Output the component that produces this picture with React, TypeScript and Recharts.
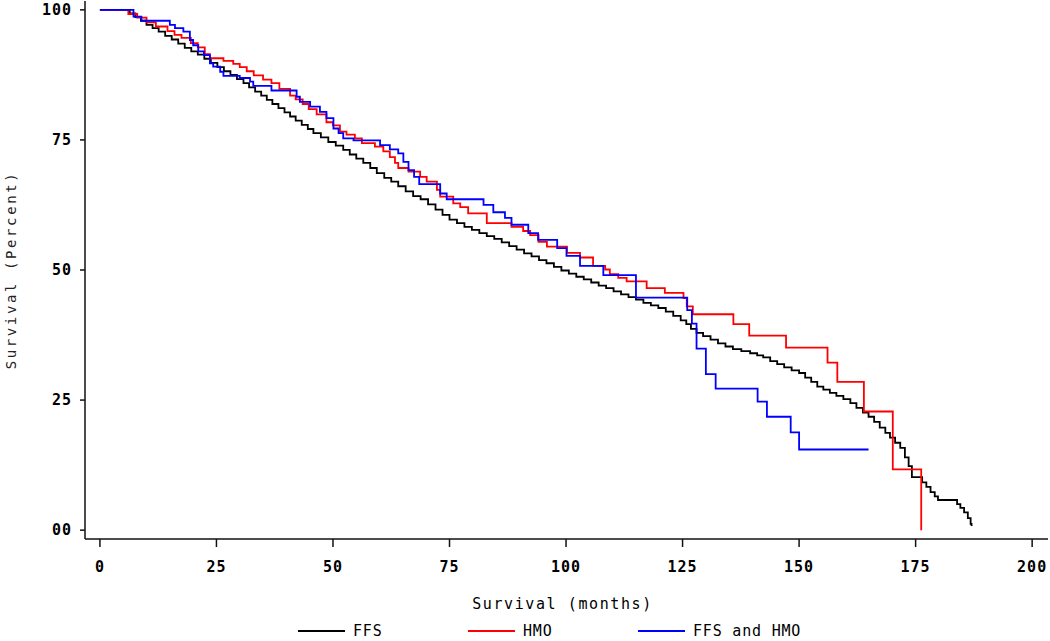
import React from "react";
import { LineChart, Line, XAxis, YAxis, Label } from "recharts";

// Kaplan-Meier estimates (months, percent surviving)
const ffsMonths = [
  0, 6.4, 7.6, 8.8, 10.0, 11.3, 12.6, 14.0, 15.4, 16.8, 18.2, 19.6, 21.0, 22.4, 23.8,
  25.2, 26.6, 28.0, 29.4, 30.8, 32.0, 33.3, 34.6, 35.8, 37.0, 38.3, 39.6, 40.8, 42.0,
  43.3, 44.6, 45.8, 47.4, 49.0, 50.6, 52.2, 53.6, 55.0, 56.5, 58.0, 59.4, 61.0, 62.5,
  64.0, 65.6, 67.2, 68.8, 70.4, 72.0, 73.5, 75.0, 76.6, 78.2, 79.8, 81.4, 83.0, 84.6,
  86.2, 87.8, 89.4, 91.0, 92.6, 94.2, 95.8, 97.4, 99.0, 100.6, 102.2, 103.8, 105.4,
  107.0, 108.6, 110.2, 111.8, 113.4, 115.0, 116.6, 118.2, 119.8, 121.4, 123.0, 124.6,
  125.8, 126.8, 128.0, 129.4, 131.0, 132.6, 134.2, 135.8, 137.6, 139.5, 141.0, 142.3,
  143.8, 145.3, 146.8, 148.4, 150.0, 151.3, 152.6, 153.9, 155.2, 156.6, 158.0, 159.5,
  161.0, 162.3, 163.7, 164.9, 166.1, 167.3, 168.5, 169.5, 170.6, 171.7, 172.7, 173.5,
  174.2, 176.4, 177.3, 178.2, 179.1, 179.8, 183.9, 184.6, 185.4, 186.2, 186.8, 187.0,
];
const ffsSurvival = [
  100, 99.3, 98.6, 97.9, 97.1, 96.5, 95.8, 95.0, 94.3, 93.5, 92.7, 92.0, 91.4, 90.6, 89.8,
  89.0, 88.2, 87.5, 86.7, 85.9, 85.1, 84.3, 83.5, 82.7, 81.9, 81.1, 80.3, 79.5, 78.7,
  77.9, 77.1, 76.3, 75.5, 74.6, 73.9, 73.1, 72.2, 71.4, 70.6, 69.6, 68.6, 67.7, 67.0,
  66.1, 65.1, 64.2, 63.6, 62.6, 61.6, 60.6, 59.7, 59.0, 58.3, 57.7, 57.1, 56.5, 56.0,
  55.3, 54.6, 53.9, 53.2, 52.6, 51.9, 51.3, 50.6, 49.9, 49.3, 48.7, 48.2, 47.6,
  47.0, 46.5, 45.9, 45.3, 44.8, 44.3, 43.7, 43.2, 42.7, 42.0, 41.2, 40.3,
  39.6, 38.7, 37.9, 37.3, 36.6, 35.9, 35.3, 34.8, 34.4, 34.0, 33.6, 33.2,
  32.5, 31.9, 31.3, 30.7, 30.2, 29.3, 28.5, 27.6, 27.0, 26.4, 25.8, 25.2,
  24.4, 23.5, 22.6, 21.8, 20.8, 19.7, 18.7, 17.8, 16.8, 15.8, 14.0, 12.3,
  10.2, 9.2, 8.3, 7.3, 6.5, 5.8, 5.0, 4.3, 3.4, 2.3, 1.2, 0.8,
];

const hmoMonths = [
  0, 6.1, 8.0, 10.0, 12.0, 14.5, 16.0, 17.5, 19.5, 21.0, 22.5, 23.6, 26.5, 28.6, 30.0,
  31.5, 33.0, 35.0, 36.8, 38.5, 40.8, 42.0, 43.5, 44.8, 46.5, 48.6, 50.0, 51.5, 52.9,
  54.7, 56.2, 59.0, 60.8, 62.2, 63.3, 64.0, 66.2, 68.7, 70.1, 72.3, 73.0, 75.8, 77.3,
  79.0, 83.0, 88.3, 90.8, 92.3, 94.1, 95.9, 100.2, 103.0, 105.8, 108.4, 109.4, 111.2,
  113.0, 117.3, 121.2, 125.2, 125.9, 127.2, 135.9, 139.3, 147.2, 156.1, 158.2, 163.9,
  170.1, 176.2,
];
const hmoSurvival = [
  100, 99.2, 98.5, 97.6, 96.8, 95.9, 95.2, 94.6, 93.6, 92.8, 91.5, 90.7, 90.2, 89.6, 89.0,
  88.2, 87.4, 86.6, 85.9, 84.8, 83.5, 82.8, 81.9, 80.9, 79.9, 78.4, 77.8, 76.6, 76.0,
  75.3, 74.4, 73.7, 72.8, 71.7, 70.6, 69.6, 68.9, 67.9, 67.0, 65.4, 64.1, 62.8, 62.1,
  60.9, 59.0, 58.3, 57.5, 56.7, 55.4, 54.5, 53.3, 52.4, 50.8, 50.1, 49.2, 48.5,
  47.8, 46.5, 45.6, 44.6, 43.0, 41.5, 39.6, 37.4, 35.1, 32.2, 28.5, 22.8,
  11.7, 0,
];

const bothMonths = [
  0, 7.2, 8.9, 15.0, 16.1, 17.9, 19.3, 20.0, 21.1, 22.3, 23.6, 24.3, 25.8, 26.5, 30.0,
  32.2, 32.9, 36.8, 42.2, 42.9, 45.1, 47.2, 48.6, 50.1, 51.2, 52.2, 54.4, 60.1, 62.2,
  64.0, 65.1, 66.2, 67.4, 68.5, 73.0, 74.4, 82.3, 84.4, 86.9, 88.3, 91.9, 94.0, 98.1,
  100.1, 103.0, 108.0, 115.0, 126.0, 127.0, 128.0, 130.0, 132.1, 141.1, 143.1, 148.2,
  150.0, 164.9,
];
const bothSurvival = [
  100, 98.7, 97.9, 97.1, 96.5, 95.8, 94.2, 93.2, 92.0, 91.3, 89.7, 89.1, 88.1, 87.3, 86.9,
  86.2, 85.4, 84.5, 83.3, 82.3, 81.4, 80.4, 79.2, 77.2, 76.3, 75.3, 74.9, 74.0, 73.2,
  72.4, 70.8, 69.2, 67.9, 66.5, 64.7, 63.6, 62.5, 61.1, 60.0, 58.7, 57.1, 55.8, 54.2,
  52.7, 50.8, 49.0, 44.7, 42.3, 39.7, 34.9, 30.0, 27.2, 24.7, 21.8, 18.8,
  15.5, 15.5,
];

const xTicks = [0, 25, 50, 75, 100, 125, 150, 175, 200];
const yTicks = [0, 25, 50, 75, 100];
const yTickLabels = ["00", "25", "50", "75", "100"];

const toPoints = (months: number[], survival: number[]) =>
  months.map((m, i) => ({ month: m, survival: survival[i] }));

const ffs = toPoints(ffsMonths, ffsSurvival);
const hmo = toPoints(hmoMonths, hmoSurvival);
const both = toPoints(bothMonths, bothSurvival);

const mono = "'DejaVu Sans Mono', monospace";
const tickStyle = { fill: "#000", fontSize: 15, fontWeight: "bold", fontFamily: mono, letterSpacing: 1 };

const legendItems = [
  { name: "FFS", color: "#000000" },
  { name: "HMO", color: "#ff0000" },
  { name: "FFS and HMO", color: "#0000ff" },
];

const App = () => {
  return (
    <div style={{ position: "absolute", left: 0, top: 0, width: 1050, height: 641, background: "#fff" }}>
      <LineChart width={1050} height={641} margin={{ top: 1, right: 2, left: 0, bottom: 0 }}>
        <XAxis
          dataKey="month"
          type="number"
          domain={[-3.2, 203.4]}
          ticks={xTicks}
          allowDataOverflow
          height={102}
          tickSize={8}
          tickMargin={14}
          stroke="#111"
          strokeWidth={1.5}
          tick={tickStyle}
        >
          <Label
            content={({ viewBox }: any) => (
              <text
                x={viewBox.x + viewBox.width / 2 - 4}
                y={viewBox.y + 70}
                textAnchor="middle"
                fontFamily={mono}
                fontSize={15}
                letterSpacing={1.6}
                fill="#000"
              >
                Survival (months)
              </text>
            )}
          />
        </XAxis>
        <XAxis xAxisId="top" orientation="top" type="number" domain={[-3.2, 203.4]} height={0} tick={false} tickLine={false} stroke="#111" strokeWidth={1.5} />
        <YAxis
          type="number"
          domain={[-1.7, 101.7]}
          ticks={yTicks}
          allowDataOverflow
          width={85}
          tickSize={5}
          tickMargin={8}
          stroke="#111"
          strokeWidth={1.5}
          tick={tickStyle}
          tickFormatter={(v: number) => yTickLabels[yTicks.indexOf(v)]}
        >
          <Label
            content={({ viewBox }: any) => {
              const x = viewBox.x + 16;
              const y = viewBox.y + viewBox.height / 2;
              return (
                <text
                  x={x}
                  y={y}
                  transform={`rotate(-90 ${x} ${y})`}
                  textAnchor="middle"
                  fontFamily={mono}
                  fontSize={14}
                  letterSpacing={2.6}
                  fill="#222"
                >
                  Survival (Percent)
                </text>
              );
            }}
          />
        </YAxis>
        <YAxis yAxisId="right" orientation="right" type="number" domain={[-1.7, 101.7]} width={0} tick={false} tickLine={false} stroke="#111" strokeWidth={1.5} />
        <Line data={ffs} dataKey="survival" type="stepAfter" stroke="#000000" strokeWidth={1.8} dot={false} isAnimationActive={false} />
        <Line data={hmo} dataKey="survival" type="stepAfter" stroke="#ff0000" strokeWidth={1.8} dot={false} isAnimationActive={false} />
        <Line data={both} dataKey="survival" type="stepAfter" stroke="#0000ff" strokeWidth={1.8} dot={false} isAnimationActive={false} />
      </LineChart>
      <div style={{ position: "absolute", left: 298, top: 622, display: "flex", fontFamily: mono, fontSize: 15 }}>
        {legendItems.map((item) => (
          <div key={item.name} style={{ width: 170, display: "flex", alignItems: "center" }}>
            <span style={{ display: "inline-block", width: 47, height: 2, background: item.color, marginRight: 8 }} />
            <span style={{ color: "#000", letterSpacing: 0.8 }}>{item.name}</span>
          </div>
        ))}
      </div>
    </div>
  );
};

export default App;
